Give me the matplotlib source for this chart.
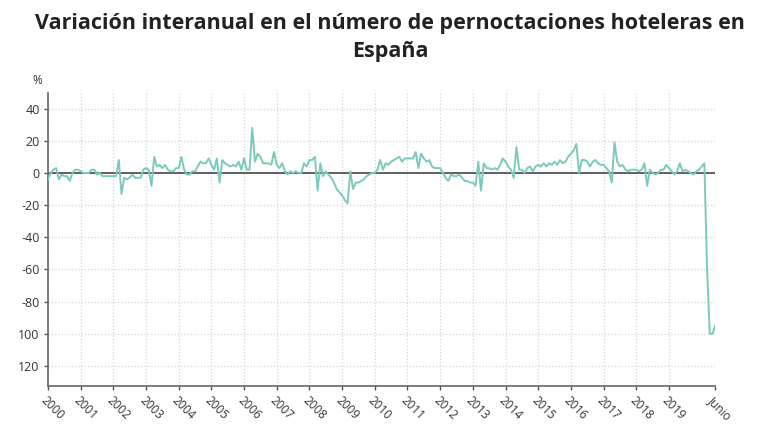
import matplotlib
matplotlib.use("Agg")
import matplotlib.pyplot as plt
import numpy as np

# monthly year-on-year change (%) of hotel overnight stays, Jan 2000 - Jun 2020
v2000 = [-4, 0, 2, 3, -4, -1, -2, -2, -5, 0, 2, 2]
v2001 = [1, 0, 0, 0, 2, 2, -1, 0, -2, -2, -2, -2]
v2002 = [-2, -2, 8, -13, -3, -4, -3, -1, -3, -3, -3, 2]
v2003 = [3, 2, -8, 10, 4, 5, 3, 5, 2, 1, 1, 3]
v2004 = [3, 10, 2, -1, -1, 1, 1, 4, 7, 6, 6, 9]
v2005 = [5, 2, 9, -6, 8, 6, 5, 4, 5, 4, 7, 2]
v2006 = [9, 2, 2, 28, 7, 12, 10, 6, 6, 6, 5, 13]
v2007 = [5, 3, 6, 1, -1, 1, 0, 1, 0, 0, 6, 4]
v2008 = [8, 8, 10, -11, 6, -2, 1, -1, -3, -6, -10, -12]
v2009 = [-14, -17, -19, 1, -10, -6, -6, -5, -4, -2, -1, 0]
v2010 = [0, 2, 8, 2, 6, 5, 7, 8, 9, 10, 7, 9]
v2011 = [9, 9, 9, 13, 3, 12, 9, 7, 8, 4, 3, 3]
v2012 = [3, 0, -3, -5, -1, -2, -2, -1, -3, -5, -5, -6]
v2013 = [-6, -8, 7, -11, 6, 3, 3, 2, 3, 2, 5, 9]
v2014 = [7, 4, 2, -3, 16, 2, 2, 0, 3, 4, 1, 4]
v2015 = [5, 4, 6, 4, 6, 5, 7, 5, 8, 6, 7, 10]
v2016 = [12, 14, 18, 0, 8, 8, 7, 4, 7, 8, 6, 5]
v2017 = [5, 3, 1, -6, 19, 7, 4, 5, 2, 1, 2, 2]
v2018 = [2, 1, 2, 6, -8, 2, 0, -1, 0, 2, 2, 5]
v2019 = [3, 1, -1, 1, 6, 1, 2, 1, 0, -1, 1, 2]
v2020 = [4, 6, -60, -100, -100, -95]

values = (v2000 + v2001 + v2002 + v2003 + v2004 + v2005 + v2006 + v2007
          + v2008 + v2009 + v2010 + v2011 + v2012 + v2013 + v2014 + v2015
          + v2016 + v2017 + v2018 + v2019 + v2020)

x_labels = [str(y) for y in range(2000, 2020)] + ["Junio"]
y_ticks = [40, 20, 0, -20, -40, -60, -80, -100, -120]
y_labels = ["40", "20", "0", "-20", "-40", "-60", "-80", "100", "120"]

plt.rcParams["font.family"] = ["Open Sans", "DejaVu Sans"]

fig = plt.figure(figsize=(7.8, 4.4), dpi=100)
ax = fig.add_axes([0.0615, 0.1227, 0.8555, 0.6663])

months = np.arange(len(values))
ax.plot(months, values, color="#7ccabd", lw=1.4, zorder=3)
ax.axhline(0, color="#555555", lw=1.3, zorder=2)

x_ticks = list(range(0, 240, 12)) + [len(values) - 1]
ax.set_xticks(x_ticks)
ax.set_xticklabels(x_labels, rotation=-45, ha="left", va="top",
                   rotation_mode="anchor", fontsize=8.5, color="#333333")
ax.set_yticks(y_ticks)
ax.set_yticklabels(y_labels, fontsize=9, color="#333333")
ax.set_xlim(0, len(values) - 1)
ax.set_ylim(-132.5, 49.8)

ax.grid(True, color="#d4d4d4", linestyle=":", lw=0.9)
ax.set_axisbelow(True)
for side in ["top", "right"]:
    ax.spines[side].set_visible(False)
for side in ["left", "bottom"]:
    ax.spines[side].set_color("#666666")
    ax.spines[side].set_linewidth(1.2)
ax.tick_params(axis="both", length=3, width=1, color="#555555", pad=3)

fig.text(0.041, 0.81, "%", fontsize=8.5, color="#333333")
fig.text(0.5, 0.97, "Variación interanual en el número de pernoctaciones hoteleras en\nEspaña",
         ha="center", va="top", fontsize=15.5, fontweight="bold", color="#222222",
         linespacing=1.45)

fig.savefig("out.png", dpi=100)
